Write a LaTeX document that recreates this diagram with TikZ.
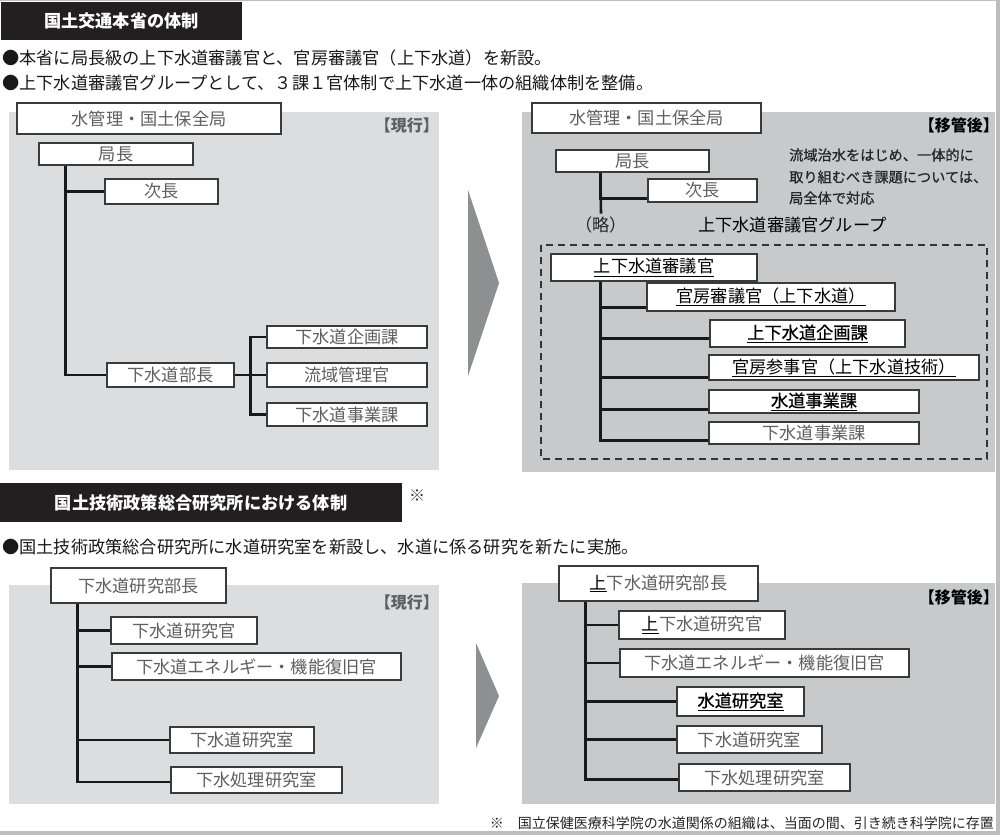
\documentclass[tikz,border=0pt]{standalone}
\usepackage{fontspec}
\setmainfont{Noto Sans CJK JP}
\newfontfamily\jphalf{Noto Sans CJK JP}[CharacterWidth=AlternateHalf]
\newfontfamily\jpmed{Noto Sans CJK JP}[FakeBold=0.7]
\definecolor{lbg}{HTML}{DCDDDF}
\definecolor{rbg}{HTML}{C8C9CB}
\definecolor{chev}{HTML}{8E8F91}
\definecolor{hdr}{HTML}{231F20}
\definecolor{txg}{HTML}{5F5F5F}
\definecolor{boxc}{HTML}{3A3A3A}
\definecolor{framec}{HTML}{BDBDBD}
\newcommand{\fs}[1]{\fontsize{#1}{#1}\selectfont}
% [options]{name}{x1}{y1}{x2}{y2}{text}
\newcommand{\bx}[7][]{\node[box,#1,minimum width={#5-#3},minimum height={#6-#4}] (#2) at ({(#3+#5)/2},{(#4+#6)/2}) {#7};}
\begin{document}
\begin{tikzpicture}[x=1pt,y=-1pt,
  box/.style={draw=boxc, fill=white, line width=1.3pt, inner sep=0pt, text=txg, font=\fs{17.2}},
  boxk/.style={text=black},
  boxm/.style={text=black, font=\jpmed\fs{17.2}},
  link/.style={line width=2.6pt, draw=black!90},
  hdrbox/.style={fill=hdr, text=white, inner sep=0pt, font=\fs{17.2}\bfseries},
  btext/.style={anchor=west, inner sep=0pt, font=\fs{17.2}, text=black!90},
  tag/.style={anchor=east, inner sep=0pt, font=\jphalf\fs{16}\bfseries},
  note/.style={anchor=west, inner sep=0pt, font=\jpmed\fs{14.2}, text=black!85},
]
\useasboundingbox (0,0) rectangle (1000,835);
\fill[white] (0,0) rectangle (1000,835);
% frame
\draw[framec, line width=1pt] (0,0.5) -- (996,0.5);
\fill[framec] (996,0) rectangle (1000,835);
\fill[framec] (0,831) rectangle (1000,835);

% backgrounds
\fill[lbg] (9,112) rectangle (439,470);
\fill[rbg] (522,112) rectangle (995,472);
\fill[lbg] (9,585) rectangle (439,804);
\fill[rbg] (522,583) rectangle (995,804);

% chevrons
\fill[chev] (468,190) -- (499,283) -- (468,376) -- cycle;
\fill[chev] (476,643) -- (499,696) -- (476,748) -- cycle;

% headers and bullets
\node[hdrbox, minimum width=241pt, minimum height=38pt] (h1) at (121.5,21) {国土交通本省の体制};
\node[btext] (b1) at (2,58) {●本省に局長級の上下水道審議官と、官房審議官（上下水道）を新設。};
\node[btext] (b2) at (2,83) {●上下水道審議官グループとして、３課１官体制で上下水道一体の組織体制を整備。};
\node[hdrbox, minimum width=402pt, minimum height=39pt] (h2) at (201,502.5) {国土技術政策総合研究所における体制};
\node[inner sep=0pt, font=\fs{16}, text=black!75] (kome) at (417,496) {※};
\node[btext] (b3) at (2,547) {●国土技術政策総合研究所に水道研究室を新設し、水道に係る研究を新たに実施。};

% ---------- top left ----------
\node[tag, text=txg] (tagL1) at (431,125) {【現行】};
\bx{Lbureau}{17}{103}{281}{134}{水管理・国土保全局}
\bx{Lkyoku}{39}{143}{193}{165}{局長}
\bx{Ljicho}{105}{179}{218}{204}{次長}
\bx{Lbucho}{107}{363}{234}{387}{下水道部長}
\bx{Lkikaku}{267}{326}{427}{348}{下水道企画課}
\bx{Lryuiki}{267}{363}{427}{387}{流域管理官}
\bx{Ljigyo}{267}{403}{427}{426}{下水道事業課}
\draw[link] ([xshift=27pt]Lkyoku.south west) |- (Ljicho.west);
\draw[link] ([xshift=27pt]Lkyoku.south west) |- (Lbucho.west);
\draw[link] (Lbucho.east) -- (Lryuiki.west);
\coordinate (Lj) at ([xshift=16pt]Lbucho.east);
\draw[link] (Lkikaku.west) -| (Lj) |- (Ljigyo.west);

% ---------- top right ----------
\node[tag, text=black] (tagR1) at (991,125) {【移管後】};
\bx{Rbureau}{532}{103}{761}{133}{水管理・国土保全局}
\bx{Rkyoku}{556}{150}{709}{172}{局長}
\bx{Rjicho}{648}{179}{757}{202}{次長}
\node[inner sep=0pt, font=\fs{17.2}, text=black!85] (ryaku) at (601,225) {（略）};
\draw[link] ([xshift=45pt]Rkyoku.south west) -- ([yshift=3pt]ryaku.north);
\draw[link] ([xshift=45pt]Rkyoku.south west) |- ([yshift=4pt]Rjicho.south west);
\node[note] (n1) at (789,155) {流域治水をはじめ、一体的に};
\node[note] (n2) at (789,177) {取り組むべき課題については、};
\node[note] (n3) at (789,198) {局全体で対応};
\node[anchor=west, inner sep=0pt, font=\fs{17.2}, text=black] (grp) at (698,225) {上下水道審議官グループ};
\draw[line width=2pt, draw=black!80, dash pattern=on 7pt off 5pt] (541,245) rectangle (987,459);
\bx[boxk]{Rshingi}{551}{254}{757}{281}{\underline{上下水道審議官}}
\bx[boxk]{Rkanbo}{647}{283}{895}{311}{\underline{官房審議官（上下水道）}}
\bx[boxm]{Rkikaku}{710}{320}{905}{347}{\underline{上下水道企画課}}
\bx[boxk]{Rsanji}{709}{355}{979}{380}{\underline{官房参事官（上下水道技術）}}
\bx[boxm]{Rsuido}{709}{390}{919}{413}{\underline{水道事業課}}
\bx{Rgesui}{709}{422}{919}{444}{下水道事業課}
\draw[link] ([xshift=50pt]Rshingi.south west) |- ([yshift=4pt]Rkanbo.south west);
\draw[link] ([xshift=50pt]Rshingi.south west) |- ([yshift=9pt]Rkikaku.south west);
\draw[link] ([xshift=50pt]Rshingi.south west) |- ([yshift=3pt]Rsanji.south west);
\draw[link] ([xshift=50pt]Rshingi.south west) |- ([yshift=4pt]Rsuido.south west);
\draw[link] ([xshift=50pt]Rshingi.south west) |- ([yshift=4pt]Rgesui.south west);

% ---------- bottom left ----------
\node[tag, text=txg] (tagL2) at (431,602) {【現行】};
\bx{BLbucho}{51}{568}{226}{603}{下水道研究部長}
\bx{BLkan}{111}{617}{257}{644}{下水道研究官}
\bx{BLene}{112}{653}{401}{680}{下水道エネルギー・機能復旧官}
\bx{BLshitsu}{170}{727}{314}{753}{下水道研究室}
\bx{BLshori}{171}{767}{342}{793}{下水処理研究室}
\draw[link] ([xshift=27pt]BLbucho.south west) |- (BLkan.west);
\draw[link] ([xshift=27pt]BLbucho.south west) |- (BLene.west);
\draw[link] ([xshift=27pt]BLbucho.south west) |- (BLshitsu.west);
\draw[link] ([xshift=27pt]BLbucho.south west) |- ([yshift=-2pt]BLshori.west);

% ---------- bottom right ----------
\node[tag, text=black] (tagR2) at (991,597) {【移管後】};
\bx{BRbucho}{559}{566}{758}{601}{{\color{black}\underline{上}}下水道研究部長}
\bx{BRkan}{619}{611}{785}{639}{{\color{black}\underline{上}}下水道研究官}
\bx{BRene}{620}{649}{909}{677}{下水道エネルギー・機能復旧官}
\bx[boxm]{BRsuido}{677}{687}{804}{716}{\underline{水道研究室}}
\bx{BRshitsu}{677}{726}{822}{753}{下水道研究室}
\bx{BRshori}{679}{764}{850}{791}{下水処理研究室}
\draw[link] ([xshift=27pt]BRbucho.south west) |- (BRkan.west);
\draw[link] ([xshift=27pt]BRbucho.south west) |- (BRene.west);
\draw[link] ([xshift=27pt]BRbucho.south west) |- (BRsuido.west);
\draw[link] ([xshift=27pt]BRbucho.south west) |- (BRshitsu.west);
\draw[link] ([xshift=27pt]BRbucho.south west) |- ([yshift=-2pt]BRshori.west);

% footnote
\node[anchor=east, inner sep=0pt, font=\fs{14}, text=black!85] (fn) at (994,823) {※　国立保健医療科学院の水道関係の組織は、当面の間、引き続き科学院に存置};
\end{tikzpicture}
\end{document}
